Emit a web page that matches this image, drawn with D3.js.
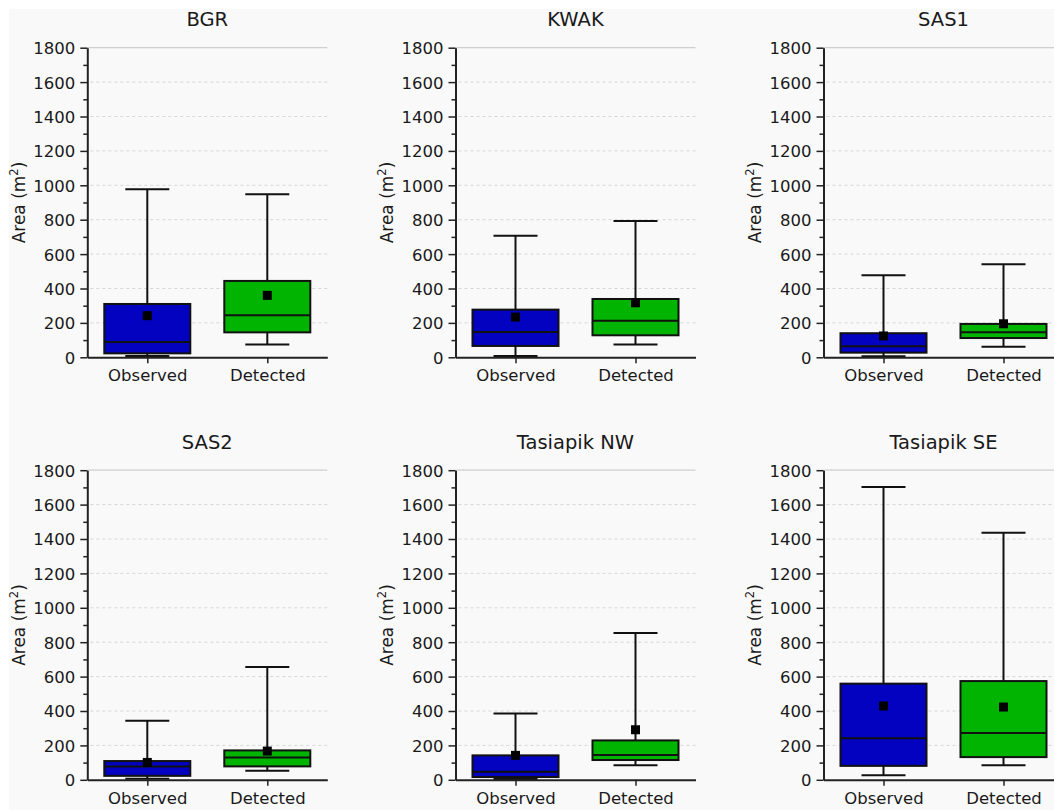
<!DOCTYPE html>
<html>
<head>
<meta charset="utf-8">
<script src="https://cdn.jsdelivr.net/npm/d3@7"></script>
<style>
  html, body { margin: 0; padding: 0; background: #ffffff; }
  svg { display: block; }
  text { font-family: "DejaVu Sans", Verdana, sans-serif; fill: #1a1a1a; }
</style>
</head>
<body>
<svg id="chart" width="1054" height="810"></svg>
<script>
// Polygon area statistics per site: [Observed, Detected]
const sites = ["BGR", "KWAK", "SAS1", "SAS2", "Tasiapik NW", "Tasiapik SE"];
const groups = ["Observed", "Detected"];
const whiskerLow  = [[7, 75], [7, 75], [6, 62], [6, 52], [4, 85], [27, 84]];
const q1          = [[23, 145], [66, 128], [27, 112], [23, 78], [16, 115], [81, 132]];
const median      = [[89, 244], [147, 213], [64, 145], [78, 130], [47, 144], [241, 272]];
const q3          = [[310, 444], [277, 339], [140, 194], [109, 171], [142, 229], [559, 574]];
const whiskerHigh = [[977, 948], [707, 792], [477, 541], [343, 656], [386, 853], [1702, 1437]];
const means       = [[242, 360], [234, 317], [124, 195], [101, 167], [142, 291], [429, 423]];
const yTicks      = [0, 200, 400, 600, 800, 1000, 1200, 1400, 1600, 1800];
const yMinorTicks = [100, 300, 500, 700, 900, 1100, 1300, 1500, 1700];
const groupColors = ["#0202c0", "#01b401"];

const svg = d3.select("#chart");

// panel background
svg.append("rect").attr("x", 9).attr("y", 9).attr("width", 1045).attr("height", 801)
  .attr("fill", "#f9f9f9");

const plotW = 240, plotH = 309.6;
const colX = [87.3, 455.5, 823.5];
const rowY = [47.7, 470.2];
const boxW = 86, capW = 44, meanSize = 9;

const y = d3.scaleLinear().domain([0, 1800]).range([plotH, 0]);
const x = d3.scalePoint().domain(groups).range([0, plotW]).padding(0.5);

sites.forEach((site, i) => {
  const g = svg.append("g")
    .attr("transform", `translate(${colX[i % 3]},${rowY[Math.floor(i / 3)]})`);

  // horizontal grid
  g.append("g").selectAll("line")
    .data(yTicks.filter(t => t > 0 && t < 1800))
    .join("line")
    .attr("x1", 3).attr("x2", plotW)
    .attr("y1", d => y(d)).attr("y2", d => y(d))
    .attr("stroke", "#d6d6d6").attr("stroke-width", 1)
    .attr("stroke-dasharray", "3,3");
  g.append("line")
    .attr("x1", 0).attr("x2", plotW)
    .attr("y1", y(1800)).attr("y2", y(1800))
    .attr("stroke", "#cfcfcf").attr("stroke-width", 1.2);

  // title
  g.append("text")
    .attr("x", plotW / 2).attr("y", -21.5)
    .attr("text-anchor", "middle")
    .style("font-size", "19.5px")
    .text(site);

  // y axis label
  const lab = g.append("text")
    .attr("transform", `translate(-62.5,${plotH / 2}) rotate(-90)`)
    .attr("text-anchor", "middle")
    .style("font-size", "17px");
  lab.append("tspan").text("Area (m");
  lab.append("tspan").attr("dy", -7).style("font-size", "11.5px").text("2");
  lab.append("tspan").attr("dy", 7).text(")");

  // boxes
  groups.forEach((grp, j) => {
    const cx = x(grp);
    const bg = g.append("g");
    // whisker stem
    bg.append("line")
      .attr("x1", cx).attr("x2", cx)
      .attr("y1", y(whiskerLow[i][j])).attr("y2", y(whiskerHigh[i][j]))
      .attr("stroke", "#111").attr("stroke-width", 2);
    // caps
    [whiskerLow[i][j], whiskerHigh[i][j]].forEach(v => {
      bg.append("line")
        .attr("x1", cx - capW / 2).attr("x2", cx + capW / 2)
        .attr("y1", y(v)).attr("y2", y(v))
        .attr("stroke", "#111").attr("stroke-width", 2);
    });
    // box
    bg.append("rect")
      .attr("x", cx - boxW / 2).attr("width", boxW)
      .attr("y", y(q3[i][j])).attr("height", y(q1[i][j]) - y(q3[i][j]))
      .attr("fill", groupColors[j])
      .attr("stroke", "#111").attr("stroke-width", 2);
    // median
    bg.append("line")
      .attr("x1", cx - boxW / 2).attr("x2", cx + boxW / 2)
      .attr("y1", y(median[i][j])).attr("y2", y(median[i][j]))
      .attr("stroke", "#111").attr("stroke-width", 2);
    // mean
    bg.append("rect")
      .attr("x", cx - meanSize / 2).attr("y", y(means[i][j]) - meanSize / 2)
      .attr("width", meanSize).attr("height", meanSize)
      .attr("fill", "#000");
  });

  // y axis
  const ya = g.append("g")
    .call(d3.axisLeft(y).tickValues(yTicks).tickFormat(d3.format("d"))
      .tickSize(7).tickSizeOuter(0).tickPadding(5));
  ya.selectAll("text").style("font-size", "16.5px").attr("dy", "0.36em");
  g.append("g")
    .call(d3.axisLeft(y).tickValues(yMinorTicks).tickSize(4).tickFormat(""))
    .select(".domain").remove();

  // x axis
  const xa = g.append("g")
    .attr("transform", `translate(0,${plotH})`)
    .call(d3.axisBottom(x).tickSize(6).tickSizeOuter(0).tickPadding(6));
  xa.selectAll("text").style("font-size", "16.5px");

  g.selectAll(".domain").attr("stroke", "#222").attr("stroke-width", 2);
  g.selectAll(".tick line").attr("stroke", "#222").attr("stroke-width", 1.5);
  g.selectAll(".tick text").attr("fill", "#1a1a1a");
});
</script>
</body>
</html>
